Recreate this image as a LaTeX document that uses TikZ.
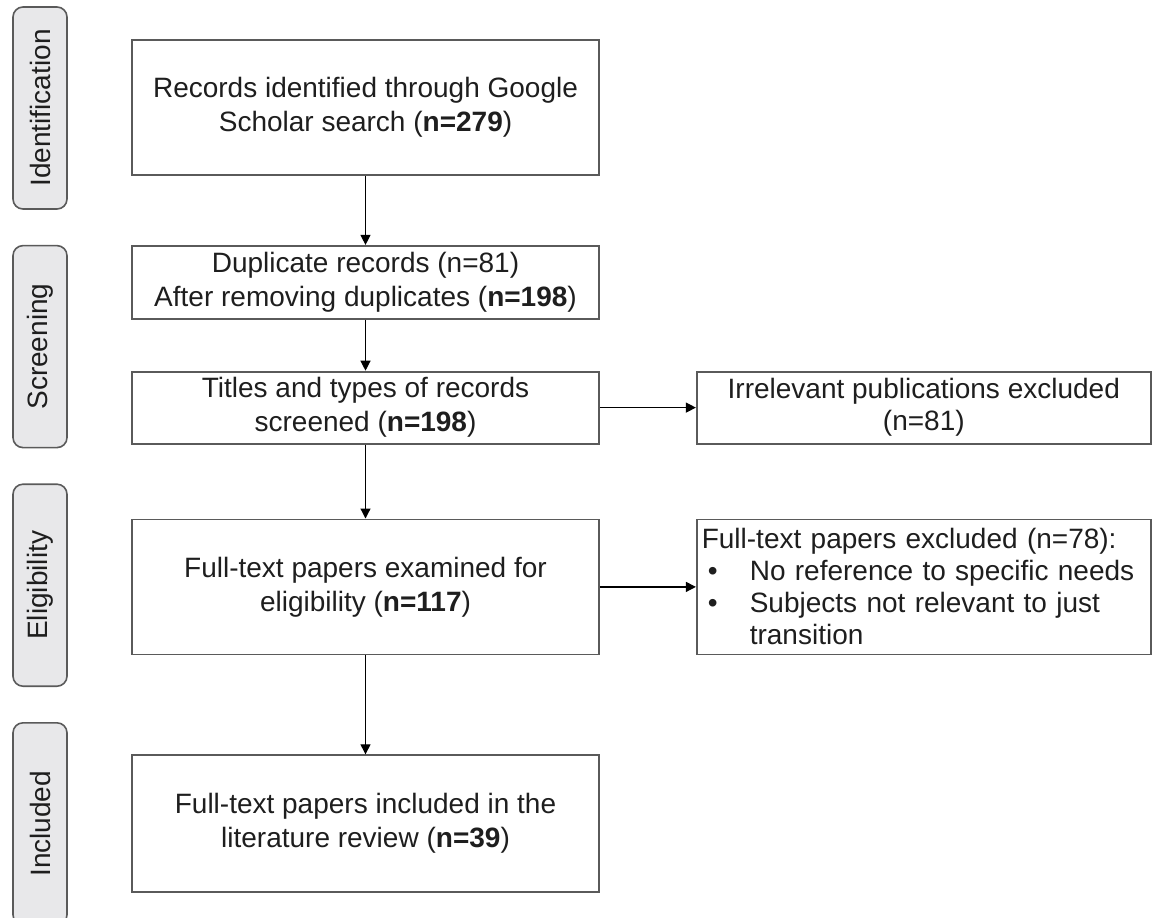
\documentclass[tikz,border=0pt]{standalone}
\usepackage{fontspec}
\setmainfont{Liberation Sans}
\usepackage{graphicx}
\usetikzlibrary{positioning, arrows.meta}
\definecolor{boxline}{HTML}{5A5A5A}
\definecolor{phasefill}{HTML}{E8E8EA}
\definecolor{inktext}{HTML}{1E1E1E}
\tikzstyle{phase} = [rectangle, rounded corners=5pt, minimum width=27pt, minimum height=101pt, draw=boxline, line width=0.8pt, fill=phasefill, text=inktext, font=\fontsize{14}{16}\selectfont]
\tikzstyle{process} = [rectangle, minimum width=233.5pt, inner sep=2pt, text centered, align=center, draw=boxline, line width=0.9pt, text=inktext, font=\fontsize{14}{17}\selectfont]
\tikzstyle{sidebox} = [rectangle, minimum width=227pt, inner sep=2pt, draw=boxline, line width=0.9pt, text=inktext, font=\fontsize{14}{16}\selectfont]
\tikzstyle{arrow} = [line width=0.6pt, -{Triangle[length=5pt, width=5pt]}]

\begin{document}
\begin{tikzpicture}[x=0.5pt, y=-0.5pt]
    \useasboundingbox (0,0) rectangle (1155,917);
    % phases on the left
    \node (ident) [phase] at (40,108) {\rotatebox{90}{Identification}};
    \node (screening) [phase, below=17.5pt of ident] {\rotatebox{90}{Screening}};
    \node (eligible) [phase, below=17.5pt of screening] {\rotatebox{90}{Eligibility}};
    \node (incl) [phase, below=17.5pt of eligible] {\rotatebox{90}{Included}};

    % main flow
    \node (records) [process, minimum height=67.5pt] at (365.5,107.5) {Records identified through Google\\Scholar search (\textbf{n=279})};
    \node (dedup) [process, minimum height=36.5pt, below=34.5pt of records] {Duplicate records (n=81)\\After removing duplicates (\textbf{n=198})};
    \node (titles) [process, minimum height=36pt, below=25.5pt of dedup] {Titles and types of records\\screened (\textbf{n=198})};
    \node (fulltext) [process, minimum height=67.5pt, below=37pt of titles] {Full-text papers examined for\\eligibility (\textbf{n=117})};
    \node (review) [process, minimum height=68.5pt, below=49.5pt of fulltext] {Full-text papers included in the\\literature review (\textbf{n=39})};

    % exclusions
    \node (irrelevant) [sidebox, minimum height=36pt, align=center, right=48pt of titles] {Irrelevant publications excluded\\(n=81)};
    \node (excluded) [sidebox, minimum height=67.5pt, text width=222pt, align=left, right=48pt of fulltext] {Full-text papers excluded (n=78):\\
        \hspace*{3pt}\makebox[21pt][l]{\textbullet}No reference to specific needs\\
        \hspace*{3pt}\makebox[21pt][l]{\textbullet}Subjects not relevant to just\\
        \hspace*{24pt}transition};

    \draw [arrow] (records) -- (dedup);
    \draw [arrow] (dedup) -- (titles);
    \draw [arrow] (titles) -- (fulltext);
    \draw [arrow] (fulltext) -- (review);
    \draw [arrow] (titles) -- (irrelevant);
    \draw [arrow] (fulltext) -- (excluded);
\end{tikzpicture}
\end{document}
